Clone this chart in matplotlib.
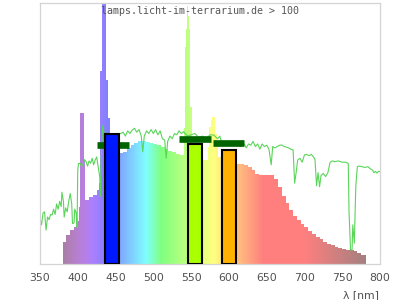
import numpy as np
import matplotlib
matplotlib.use("Agg")
import matplotlib.pyplot as plt

# ---------------- data ----------------
# lamp spectrum (relative, clipped at 100)
lamp_nm = [380, 385, 390, 395, 400, 402, 403, 405, 406, 408,
           409, 410, 415, 420, 425, 428, 430, 432, 438, 440,
           443, 450, 455, 460, 465, 470, 475, 480, 485, 490,
           495, 500, 505, 510, 515, 520, 525, 530, 535, 540,
           541, 542, 543, 544, 545, 546, 547, 548, 549, 551,
           555, 560, 565, 570, 572, 574, 576, 577, 579, 581,
           582, 584, 586, 590, 600, 610, 615, 620, 625, 630,
           635, 640, 645, 650, 655, 660, 665, 670, 675, 680,
           685, 690, 695, 700, 705, 710, 715, 720, 725, 730,
           735, 740, 745, 750, 755, 760, 765, 770, 775, 781]
lamp_val = [8.5, 11, 13, 14.3, 16.5, 22, 58, 65, 58, 40,
            27, 24.5, 25.5, 26.5, 28.4, 31, 74, 130, 70.5, 56,
            42, 42, 42.4, 43, 44.5, 45.6, 46.5, 47, 47, 46.9,
            46.5, 46, 45.5, 45, 44.2, 43.3, 42.8, 42.3, 41.8, 41.5,
            52, 83, 90, 95, 99, 95, 90, 83, 60, 41,
            40.5, 40.2, 40, 40, 45, 52.6, 55, 56.4, 56.4, 52,
            50, 45, 41, 40, 39.5, 38.5, 38.3, 38, 37, 36,
            34.5, 34.2, 34.1, 34.1, 34, 32.5, 29.5, 26, 23.5, 20.5,
            18.5, 16.8, 15.2, 14, 12.8, 11.5, 10.5, 9.5, 8.5, 7.8,
            7.2, 6.6, 6.2, 5.6, 5.4, 5.2, 4.8, 4.2, 3.5, 3.5]

# reference (sunlight) spectrum
sun_nm = [350, 352, 354, 356, 358, 360, 362, 364, 366, 368,
          370, 372, 374, 376, 378, 379, 381, 382, 384, 386,
          388, 390, 392, 393, 395, 396, 398, 399, 400, 401,
          403, 405, 407, 409, 411, 413, 415, 417, 419, 421,
          423, 425, 427, 429, 430, 431, 433, 435, 445, 455,
          457, 460, 463, 466, 469, 472, 475, 478, 481, 484,
          486, 488, 491, 494, 497, 500, 503, 506, 509, 512,
          515, 517, 519, 522, 525, 528, 531, 534, 537, 540,
          545, 550, 555, 560, 565, 570, 575, 580, 585, 588,
          590, 595, 600, 605, 610, 615, 620, 623, 626, 629,
          632, 635, 638, 641, 644, 647, 650, 653, 656, 658,
          661, 664, 667, 670, 673, 676, 679, 682, 685, 687,
          689, 691, 694, 697, 700, 703, 706, 709, 712, 714,
          716, 718, 720, 722, 725, 728, 731, 734, 737, 740,
          745, 750, 755, 758, 759, 761, 763, 764, 766, 768,
          770, 772, 776, 780, 784, 787, 790, 792, 794, 796,
          798, 800]
sun_val = [17.5, 15, 19.5, 20, 13, 18, 17, 19, 18.8, 21,
           19, 23, 21, 24, 22, 27.5, 24, 18, 21.5, 20,
           24, 27, 23, 15.5, 15.7, 21, 19.5, 14, 36, 38.5,
           38.6, 37.5, 38, 40, 39.2, 37.5, 39.5, 38.6, 40.5, 38,
           39.8, 41, 37.3, 33.5, 26, 41, 53, 50, 48, 50,
           50, 50.5, 49, 51, 50, 51.3, 52, 50.5, 51.5, 49,
           43, 49, 51, 50, 51.5, 50, 51.5, 49.5, 51, 48,
           47.5, 40.5, 47, 49, 48, 50, 49.5, 51, 50, 50.7,
           49, 49.5, 50, 48.5, 49, 48, 49.5, 49.4, 48, 49,
           47, 46, 47, 46, 46.5, 45, 46.2, 44.5, 46, 45.5,
           47, 45, 46, 44, 46, 45, 45.5, 44, 38, 45,
           44.5, 45, 45.5, 45.6, 45, 44.8, 44.5, 44, 43.7, 31,
           35, 39.8, 40.5, 39, 41.8, 42, 41.5, 42, 41, 40,
           30, 35, 29.6, 34, 34.7, 33.5, 35, 39, 39.5, 39.2,
           39.5, 39, 39, 38.5, 20, 5.4, 5.4, 15, 8, 30,
           37.3, 37.5, 37.3, 37, 37.3, 36.5, 36, 35, 35.5, 34.8,
           35.5, 35.4]

# channel bars and target markers
bar_nm = [445, 555, 600]
bar_val = [50, 46, 43.5]
bar_colors = ["#0019ff", "#aaff00", "#ffb300"]
mark_nm = [446.5, 555.5, 599.5]
mark_val = [45.5, 47.8, 46.2]

x_ticks = [350, 400, 450, 500, 550, 600, 650, 700, 750, 800]
title_text = "lamps.licht-im-terrarium.de > 100"
x_label = "λ [nm]"


# ---------------- style helpers ----------------
def pastel_wl(w):
    if w < 440:
        r, g, b = -(w - 440) / 60.0, 0.0, 1.0
    elif w < 490:
        r, g, b = 0.0, (w - 440) / 50.0, 1.0
    elif w < 510:
        r, g, b = 0.0, 1.0, -(w - 510) / 20.0
    elif w < 580:
        r, g, b = (w - 510) / 70.0, 1.0, 0.0
    elif w < 645:
        r, g, b = 1.0, -(w - 645) / 65.0, 0.0
    else:
        r, g, b = 1.0, 0.0, 0.0
    if w < 420:
        f = 0.3 + 0.7 * (w - 380) / 40.0
    elif w <= 700:
        f = 1.0
    else:
        f = 0.3 + 0.7 * (780 - w) / 80.0
    f = max(min(f, 1.0), 0.3)
    return (0.5 + 0.5 * r * f, 0.5 + 0.5 * g * f, 0.5 + 0.5 * b * f)


fig = plt.figure(figsize=(4, 3), dpi=100)
ax = fig.add_axes([0.1, 0.12, 0.85, 0.87])

# lamp spectrum: step polygon filled with a wavelength gradient
poly = ax.fill_between(lamp_nm, lamp_val, step="post", facecolor="none",
                       linewidth=0, zorder=1)
grad_x = np.arange(lamp_nm[0], lamp_nm[-1] + 1, 0.5)
grad = np.array([[pastel_wl(w) for w in grad_x]])
im = ax.imshow(grad, extent=[lamp_nm[0], lamp_nm[-1], 0, 140], aspect="auto",
               interpolation="nearest", origin="lower", zorder=1)
im.set_clip_path(poly.get_paths()[0], transform=ax.transData)

# reference line
ax.plot(sun_nm, sun_val, color="#5ad55a", lw=0.8, zorder=2)

# markers
for c, v in zip(mark_nm, mark_val):
    ax.hlines(v, c - 21, c + 21, colors="#006400", lw=4.8, zorder=3,
              capstyle="butt")

# bars
ax.bar(bar_nm, bar_val, width=19, color=bar_colors, edgecolor="black",
       linewidth=1.5, zorder=4)

ax.set_xlim(350, 800)
ax.set_ylim(0, 100)
ax.set_xticks(x_ticks)
ax.set_xticklabels([str(t) for t in x_ticks])
ax.set_yticks([])
ax.tick_params(axis="x", length=0, pad=6.5, labelsize=7.8, labelcolor="#505050")
for s in ax.spines.values():
    s.set_color("#d4d4d4")
    s.set_linewidth(0.9)

fig.text(0.5, 1 - 11 / 300, title_text, ha="center", va="center",
         family="DejaVu Sans Mono", fontsize=7.2, color="#555555", zorder=6)
fig.text(379 / 400, 1 - 295 / 300, x_label, ha="right", va="center",
         fontsize=7.8, color="#505050")

fig.savefig("out.png", dpi=100)
